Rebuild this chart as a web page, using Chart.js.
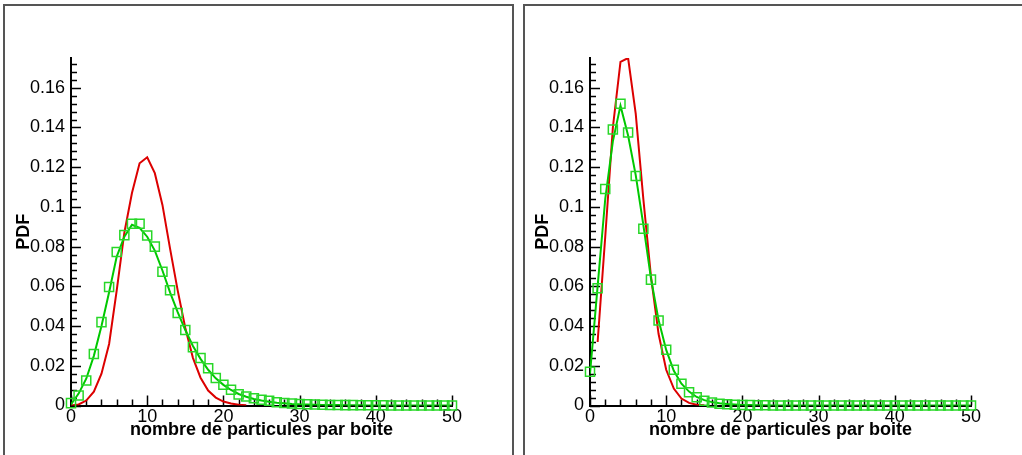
<!DOCTYPE html>
<html>
<head>
<meta charset="utf-8">
<script src="https://cdn.jsdelivr.net/npm/chart.js@4.4.1/dist/chart.umd.min.js"></script>
<style>
  html, body { margin: 0; padding: 0; background: #fff; }
  body { width: 1022px; height: 455px; position: relative; overflow: hidden; }
  .panel { position: absolute; top: 4px; height: 600px; border: 2px solid #555; box-sizing: border-box; }
  #panelLeft { left: 3px; width: 511px; }
  #panelRight { left: 523px; width: 600px; }
  canvas { position: absolute; top: 0; }
  #chartLeft { left: 0; }
  #chartRight { left: 519px; }
</style>
</head>
<body>
<div class="panel" id="panelLeft"></div>
<div class="panel" id="panelRight"></div>
<canvas id="chartLeft" width="516" height="455"></canvas>
<canvas id="chartRight" width="503" height="455"></canvas>
<script>
// nombre de particules par boite (abscisses)
const particleCounts = [0, 1, 2, 3, 4, 5, 6, 7, 8, 9, 10, 11, 12, 13, 14, 15, 16, 17, 18, 19, 20,
  21, 22, 23, 24, 25, 26, 27, 28, 29, 30, 31, 32, 33, 34, 35, 36, 37, 38, 39, 40,
  41, 42, 43, 44, 45, 46, 47, 48, 49, 50];

const xTicks = [0, 10, 20, 30, 40, 50];
const yTicks = [0, 0.02, 0.04, 0.06, 0.08, 0.1, 0.12, 0.14, 0.16];

// left panel
const leftRed = [0, 0.0005, 0.0025, 0.007, 0.016, 0.031, 0.058, 0.087, 0.107, 0.122, 0.125,
  0.117, 0.101, 0.079, 0.058, 0.039, 0.024, 0.014, 0.0075, 0.004, 0.002, 0.001, 0.0004, 0.0001];
const leftGreenLine = [0.0005, 0.006, 0.0135, 0.025, 0.040, 0.057, 0.075, 0.085, 0.091, 0.0895, 0.085,
  0.078, 0.068, 0.057, 0.047, 0.038, 0.030, 0.0235, 0.018, 0.0137, 0.0104,
  0.0078, 0.0058, 0.0044, 0.0033, 0.0025, 0.0019, 0.0014, 0.0011, 0.0008, 0.0006,
  0.0005, 0.0004, 0.0003, 0.0002, 0.0002, 0.0001, 0.0001, 0.0001, 0, 0,
  0, 0, 0, 0, 0, 0, 0, 0, 0, 0];
const leftSquares = [0.0012, 0.005, 0.0126, 0.0259, 0.042, 0.0597, 0.0773, 0.0858, 0.0915, 0.0915, 0.0856,
  0.080, 0.0674, 0.058, 0.0466, 0.038, 0.0294, 0.0239, 0.0188, 0.0138, 0.0104,
  0.0079, 0.0056, 0.0045, 0.0037, 0.0029, 0.0024, 0.0016, 0.0013, 0.001, 0.0008,
  0.0006, 0.0005, 0.0004, 0.0003, 0.0003, 0.0002, 0.0002, 0.0001, 0.0001, 0.0001,
  0.0001, 0, 0, 0, 0, 0, 0, 0, 0, 0];

// right panel
const rightRed = [null, 0.032, 0.085, 0.140, 0.173, 0.175, 0.147, 0.104, 0.065, 0.036, 0.018,
  0.0085, 0.0035, 0.0013, 0.0004, 0.0001];
const rightGreenLine = [0.016, 0.060, 0.104, 0.133, 0.151, 0.136, 0.116, 0.091, 0.064, 0.043, 0.028,
  0.0175, 0.011, 0.007, 0.0043, 0.0027, 0.0017, 0.0011, 0.0007, 0.0005, 0.0003,
  0.0002, 0.0001, 0.0001, 0, 0, 0, 0, 0, 0, 0,
  0, 0, 0, 0, 0, 0, 0, 0, 0, 0,
  0, 0, 0, 0, 0, 0, 0, 0, 0, 0];
const rightSquares = [0.017, 0.059, 0.109, 0.139, 0.152, 0.1375, 0.1156, 0.089, 0.0634, 0.0428, 0.0281,
  0.018, 0.011, 0.0067, 0.0042, 0.0024, 0.0015, 0.0009, 0.0006, 0.0004, 0.0003,
  0.0002, 0.0001, 0.0001, 0, 0, 0, 0, 0, 0, 0,
  0, 0, 0, 0, 0, 0, 0, 0, 0, 0,
  0, 0, 0, 0, 0, 0, 0, 0, 0, 0];

const RED = 'rgb(220, 0, 0)';
const GREEN = 'rgb(0, 200, 0)';
const GREEN_SQ = 'rgb(40, 215, 40)';
const FONT = '"Liberation Sans", Arial, Helvetica, sans-serif';

function toPoints(values) {
    return values.map((v, i) => ({ x: particleCounts[i], y: v }));
}

function fmt(v) {
    return String(+v.toFixed(3));
}

// tick marks drawn inward, major + minor
const innerTicks = {
    id: 'innerTicks',
    beforeDatasetsDraw(chart) {
        const { ctx, chartArea, scales: { x, y } } = chart;
        ctx.save();
        ctx.strokeStyle = '#000';
        ctx.lineWidth = 1.5;
        ctx.beginPath();
        for (let v = 0; v <= 50; v += 2) {
            const px = Math.round(x.getPixelForValue(v)) + 0.5;
            const len = v % 10 === 0 ? 10 : 6;
            ctx.moveTo(px, chartArea.bottom);
            ctx.lineTo(px, chartArea.bottom - len);
        }
        for (let i = 0; i <= 43; i++) {
            const v = i * 0.004;
            const py = Math.round(y.getPixelForValue(v)) + 0.5;
            const len = i % 5 === 0 ? 10 : 6;
            ctx.moveTo(chartArea.left, py);
            ctx.lineTo(chartArea.left + len, py);
        }
        ctx.stroke();
        ctx.restore();
    }
};

function makeChart(canvasId, red, greenLine, squares) {
    const canvas = document.getElementById(canvasId);
    const W = canvas.width;
    return new Chart(canvas.getContext('2d'), {
        type: 'line',
        data: {
            datasets: [
                {
                    data: toPoints(squares),
                    showLine: false,
                    pointStyle: 'rect',
                    pointRadius: 6.4,
                    pointBorderWidth: 1.5,
                    pointBorderColor: GREEN_SQ,
                    pointBackgroundColor: 'rgba(0,0,0,0)',
                    clip: false
                },
                {
                    data: toPoints(greenLine),
                    borderColor: GREEN,
                    borderWidth: 2,
                    pointRadius: 0,
                    tension: 0
                },
                {
                    data: toPoints(red),
                    borderColor: RED,
                    borderWidth: 2,
                    pointRadius: 0,
                    tension: 0,
                    spanGaps: false
                }
            ]
        },
        options: {
            responsive: false,
            animation: false,
            events: [],
            layout: { padding: { left: 0, right: W - 452, top: 58, bottom: 0 } },
            plugins: { legend: { display: false }, tooltip: { enabled: false } },
            scales: {
                x: {
                    type: 'linear',
                    min: 0,
                    max: 50,
                    afterBuildTicks: s => { s.ticks = xTicks.map(v => ({ value: v })); },
                    afterFit: s => { s.height = 49.5; },
                    grid: { display: false, drawTicks: false },
                    border: { display: true, color: '#000', width: 2 },
                    ticks: {
                        color: '#000',
                        padding: 1,
                        maxRotation: 0,
                        autoSkip: false,
                        font: { family: FONT, size: 18 },
                        callback: v => fmt(v)
                    },
                    title: {
                        display: true,
                        text: 'nombre de particules par boite',
                        color: '#000',
                        font: { family: FONT, size: 18, weight: 'bold' },
                        padding: { top: 0, bottom: 14 }
                    }
                },
                y: {
                    type: 'linear',
                    min: 0,
                    max: 0.175,
                    afterBuildTicks: s => { s.ticks = yTicks.map(v => ({ value: v })); },
                    afterFit: s => { s.width = 71; },
                    grid: { display: false, drawTicks: false },
                    border: { display: true, color: '#000', width: 2 },
                    ticks: {
                        color: '#000',
                        padding: 6,
                        autoSkip: false,
                        font: { family: FONT, size: 18 },
                        callback: v => fmt(v)
                    },
                    title: {
                        display: true,
                        text: 'PDF',
                        color: '#000',
                        font: { family: FONT, size: 18, weight: 'bold' },
                        padding: { top: 13, bottom: 0 }
                    }
                }
            }
        },
        plugins: [innerTicks]
    });
}

makeChart('chartLeft', leftRed, leftGreenLine, leftSquares);
makeChart('chartRight', rightRed, rightGreenLine, rightSquares);
</script>
</body>
</html>
